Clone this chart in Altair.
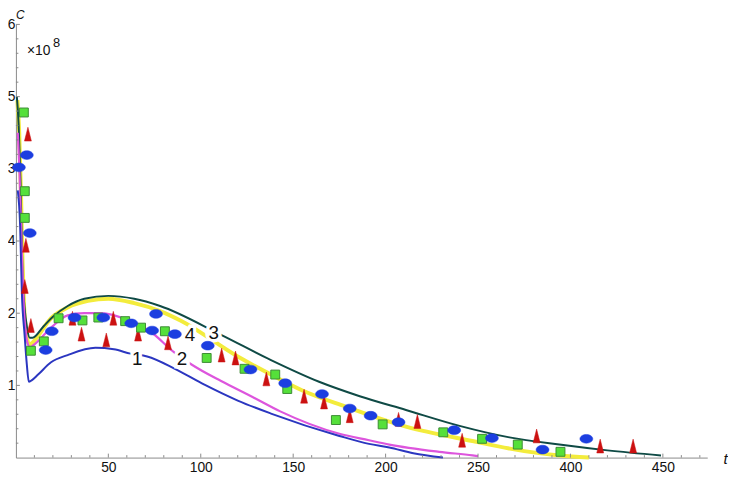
import altair as alt
import pandas as pd

# ---- model curves (t, C/1e8) ----
t1 = [1, 2.3, 3.2, 4.7, 5.9, 7, 8.5, 12, 19, 28, 43, 53, 62, 71, 86, 102, 120, 138, 175, 191, 202, 215, 231]
c1 = [3.7, 3.2, 2.3, 1.7, 1.29, 1.05, 1.07, 1.15, 1.32, 1.42, 1.52, 1.5, 1.44, 1.4, 1.23, 1.01, 0.79, 0.61, 0.3, 0.19, 0.14, 0.06, 0.0]

t2 = [1, 2, 3, 3.8, 4.6, 5.5, 6.5, 7.6, 9.6, 19, 28, 37, 46, 61, 72, 86, 95, 111, 128, 143, 175, 191, 202, 229, 247, 250]
c2 = [4.5, 3.9, 3.0, 2.4, 1.95, 1.7, 1.57, 1.53, 1.56, 1.8, 1.97, 2.0, 2.0, 1.9, 1.76, 1.45, 1.29, 1.06, 0.84, 0.64, 0.33, 0.24, 0.18, 0.08, 0.03, 0.02]

t3 = [0.5, 1.5, 2.5, 3.6, 4.6, 6.0, 7.5, 9, 15, 20, 28, 37, 50, 64, 78, 111, 138, 164, 186, 211, 240, 267, 294, 320, 349]
c3 = [5.0, 4.6, 3.8, 2.5, 2.1, 1.8, 1.66, 1.66, 1.82, 1.95, 2.1, 2.2, 2.24, 2.2, 2.1, 1.7, 1.35, 1.05, 0.85, 0.66, 0.44, 0.28, 0.18, 0.1, 0.03]

t4 = [0.8, 1.8, 2.8, 3.6, 4.4, 5.3, 6.3, 7.2, 8.5, 10, 19, 28, 39, 50, 64, 78, 89, 120, 138, 155, 178, 211, 247, 275, 294, 310]
c4 = [4.95, 4.5, 3.6, 2.7, 2.1, 1.8, 1.62, 1.57, 1.58, 1.62, 1.93, 2.08, 2.17, 2.2, 2.14, 2.03, 1.9, 1.4, 1.15, 0.93, 0.71, 0.43, 0.23, 0.09, 0.03, 0.0]

# ---- observations ----
sq_t = [4.3, 4.8, 4.8, 8.1, 15.1, 23.1, 36.0, 44.6, 59.1, 67.7, 80.6, 103.2, 123.7, 140.3, 146.8, 173.1, 198.4, 231.2, 252.2, 271.5, 294.6]
sq_c = [4.78, 3.69, 3.32, 1.48, 1.61, 1.93, 1.90, 1.94, 1.89, 1.80, 1.75, 1.38, 1.23, 1.15, 0.95, 0.52, 0.46, 0.35, 0.26, 0.18, 0.08]

el_t = [1.6, 5.9, 7.5, 16.1, 19.4, 31.7, 47.3, 62.4, 73.7, 75.8, 86.0, 103.8, 126.9, 145.7, 165.6, 180.6, 191.9, 207.0, 237.1, 257.5, 284.9, 308.6]
el_c = [4.02, 4.19, 3.11, 1.49, 1.75, 1.94, 1.94, 1.86, 1.76, 1.99, 1.71, 1.55, 1.22, 1.03, 0.88, 0.68, 0.58, 0.49, 0.38, 0.27, 0.11, 0.26]

tr_t = [6.5, 5.4, 4.8, 8.1, 30.6, 35.5, 48.9, 52.7, 66.1, 82.3, 111.3, 118.8, 135.5, 155.9, 166.7, 180.6, 207.0, 217.2, 241.4, 281.7, 316.1, 333.9]
tr_c = [4.48, 2.94, 2.37, 1.83, 1.93, 1.71, 1.63, 1.93, 1.71, 1.59, 1.42, 1.38, 1.09, 0.85, 0.77, 0.58, 0.53, 0.50, 0.24, 0.30, 0.16, 0.16]

# ---- curve labels ----
lab_t = [65.6, 89.8, 94.1, 107.0]
lab_c = [1.36, 1.36, 1.70, 1.72]
lab_s = ["1", "2", "4", "3"]

# ---- axis ticks ----
x_major = [50, 100, 150, 200, 250, 300, 350]
x_minor = [v for v in range(10, 374, 10) if v % 50 != 0]
y_major = [1, 2, 3, 4, 5, 6]
y_minor = [round(0.2 * k, 1) for k in range(1, 30) if k % 5 != 0]

W, H = 699, 438
FONT = "Liberation Sans"
xs = alt.Scale(domain=[0, 374], nice=False, zero=False)
ys = alt.Scale(domain=[0, 6], nice=False, zero=False)

xaxis = alt.Axis(
    values=x_major,
    labelExpr="datum.value == 300 ? '400' : datum.value == 350 ? '450' : datum.label",
    ticks=False, grid=False, labelFontSize=14, labelPadding=3, labelColor="#111",
    domainColor="#8a8a8a", title="t", titleFontStyle="italic", titleFontWeight="normal",
    titleFontSize=15, titleX=W + 18, titleY=1, titleAlign="center", titleBaseline="middle",
    titleColor="#111", labelFont=FONT, titleFont=FONT,
)
yaxis = alt.Axis(
    values=y_major,
    labelExpr="datum.value == 3 ? '4' : datum.value == 4 ? '3' : datum.label",
    ticks=False, grid=False, labelFontSize=14, labelPadding=1, labelColor="#111",
    domainColor="#8a8a8a", title="C", titleAngle=0, titleFontStyle="italic",
    titleFontWeight="normal", titleFontSize=12, titleX=4, titleY=-6,
    titleAlign="center", titleBaseline="alphabetic", titleColor="#111",
    labelFont=FONT, titleFont=FONT,
)


def X(field="t"):
    return alt.X(field + ":Q", scale=xs, axis=xaxis)


def Y(field="c"):
    return alt.Y(field + ":Q", scale=ys, axis=yaxis)


def curve(t, c, color, w):
    df = pd.DataFrame({"t": t, "c": c})
    return alt.Chart(df).mark_line(color=color, strokeWidth=w, interpolate="monotone").encode(
        x=X(), y=Y()
    )


def points(t, c, **kw):
    df = pd.DataFrame({"t": t, "c": c})
    return alt.Chart(df).mark_point(filled=True, opacity=1, **kw).encode(x=X(), y=Y())


def xticks(vals, length):
    df = pd.DataFrame({"t": vals})
    return alt.Chart(df).mark_rule(color="#8a8a8a", strokeWidth=1).encode(
        x=X(), y=alt.value(H), y2=alt.value(H - length)
    )


def yticks(vals, length):
    df = pd.DataFrame({"c": vals})
    return alt.Chart(df).mark_rule(color="#8a8a8a", strokeWidth=1).encode(
        y=Y(), x=alt.value(0), x2=alt.value(length)
    )


yellow = curve(t4, c4, "#f3ec3c", 4)
teal = curve(t3, c3, "#0f4a45", 2)
magenta = curve(t2, c2, "#dd55dd", 2.2)
blue = curve(t1, c1, "#2b36c0", 2)

labdf = pd.DataFrame({"t": lab_t, "c": lab_c, "s": lab_s})
halo = alt.Chart(labdf).mark_text(
    font=FONT, fontSize=19, color="white", stroke="white", strokeWidth=7
).encode(x=X(), y=Y(), text="s:N")
labels = alt.Chart(labdf).mark_text(font=FONT, fontSize=19, color="#111").encode(
    x=X(), y=Y(), text="s:N"
)

tri = points(tr_t, tr_c, shape="M 0 -1 L 0.5 1 L -0.5 1 Z", size=196, fill="#cc1111",
             stroke="#cc1111", strokeWidth=0.5)
sq = points(sq_t, sq_c, shape="square", size=81, fill="#55e03a", stroke="#3c8c34", strokeWidth=1)
ell = points(el_t, el_c, shape="M -1 0 A 1 0.68 0 1 1 1 0 A 1 0.68 0 1 1 -1 0 Z",
             size=169, fill="#1c3ee0", stroke="#1c3ee0", strokeWidth=0.5)

# ×10^8 annotation (placed in data coordinates)
mult = pd.DataFrame({"t": [6.0], "c": [5.63], "s": ["×10"]})
expo = pd.DataFrame({"t": [20.0], "c": [5.74], "s": ["8"]})
mult_t = alt.Chart(mult).mark_text(font=FONT, fontSize=14, align="left", baseline="middle", color="#111").encode(
    x=X(), y=Y(), text="s:N")
expo_t = alt.Chart(expo).mark_text(font=FONT, fontSize=13, align="left", baseline="middle", color="#111").encode(
    x=X(), y=Y(), text="s:N")

chart = alt.layer(
    yellow, teal, magenta, blue,
    xticks(x_major, 4), xticks(x_minor, 2.5), yticks(y_major, 4), yticks(y_minor, 2.5),
    halo, labels, tri, sq, ell, mult_t, expo_t,
).properties(
    width=W, height=H,
    autosize=alt.AutoSizeParams(type="none"),
    padding={"left": 8, "right": 21, "top": 14, "bottom": 15},
    background="white",
).configure_view(stroke=None)

chart.save("out.html", embed_options={"renderer": "svg", "actions": False})
